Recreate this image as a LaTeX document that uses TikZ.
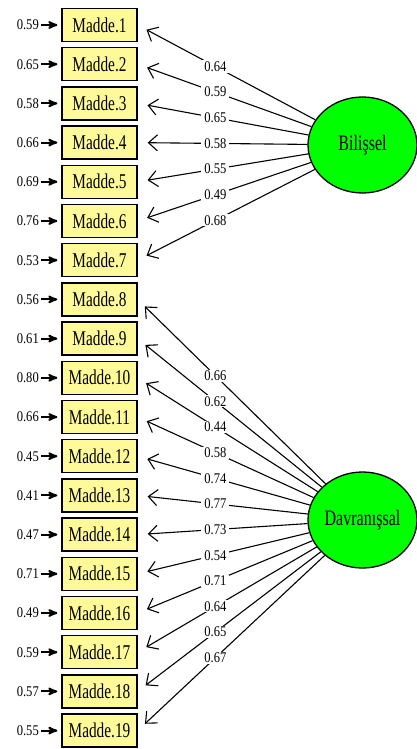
\documentclass[tikz,border=0pt]{standalone}
\usepackage{fontspec}
\setmainfont{Liberation Serif}[FakeStretch=0.73]
\newfontfamily\numfont{Liberation Serif}[FakeStretch=0.85]
\usetikzlibrary{calc}
\usetikzlibrary{arrows}
\usetikzlibrary{arrows.meta}
\usetikzlibrary{positioning}
\usetikzlibrary{shapes.geometric}

\begin{document}
\begin{tikzpicture}[x=1pt,y=1pt,->,>={Straight Barb[length=9pt,width=16pt]},
	auto,node distance=39.2pt,line width=1.1pt,
	item node/.style={draw,line width=1.3pt,fill=yellow!40,minimum width=75pt,
		minimum height=33pt,inner sep=0pt,font=\fontsize{21}{21}\selectfont},
	factor node/.style={draw,line width=1.3pt,ellipse,fill=green,minimum width=109pt,
		minimum height=96pt,inner sep=0pt,font=\fontsize{22}{22}\selectfont},
	load node/.style={fill=white,inner xsep=3pt,inner ysep=1pt,
		font=\numfont\fontsize{14.8}{14.8}\selectfont},
	err node/.style={anchor=east,inner sep=0pt,font=\numfont\fontsize{14.8}{14.8}\selectfont}]
	
	\useasboundingbox (0,0) rectangle (417,-749);
	
	\node[factor node] (Bil) at (362.5,-145) {Bilişsel};
	\node[factor node] (Dav) at (362.5,-520) {Davranışsal};
	
	\node[item node] (m1) at (99.5,-25) {Madde.1};
	\foreach \i [remember=\i as \j (initially 1)] in {2,...,19}
		\node[item node] (m\i) [below of=m\j] {Madde.\i};
	
	% error terms
	\foreach \i/\e in {1/0.59,2/0.65,3/0.58,4/0.66,5/0.69,6/0.76,7/0.53,
		8/0.56,9/0.61,10/0.80,11/0.66,12/0.45,13/0.41,14/0.47,15/0.71,
		16/0.49,17/0.59,18/0.57,19/0.55}{
		\node[err node] (e\i) at ($(m\i.west)+(-22,0)$) {\e};
		\draw[-stealth',line width=2pt,shorten <=2pt,shorten >=4pt] (e\i) -- (m\i);
	}
	
	% loadings
	\foreach \i/\l in {1/0.64,2/0.59,3/0.65,4/0.58,5/0.55,6/0.49,7/0.68}
		\draw[shorten >=10pt] (Bil) -- (m\i.east);
	\foreach \i/\l in {8/0.66,9/0.62,10/0.44,11/0.58,12/0.74,13/0.77,14/0.73,
		15/0.54,16/0.71,17/0.64,18/0.65,19/0.67}
		\draw[shorten >=10pt] (Dav) -- (m\i.east);
	\foreach \i/\l in {1/0.64,2/0.59,3/0.65,4/0.58,5/0.55,6/0.49,7/0.68}
		\node[load node] (l\i) at ($(Bil.center)!0.654!(m\i.east)$) {\l};
	\foreach \i/\l in {8/0.66,9/0.62,10/0.44,11/0.58,12/0.74,13/0.77,14/0.73,
		15/0.54,16/0.71,17/0.64,18/0.65,19/0.67}
		\node[load node] (l\i) at ($(Dav.center)!0.654!(m\i.east)$) {\l};
\end{tikzpicture}
\end{document}
